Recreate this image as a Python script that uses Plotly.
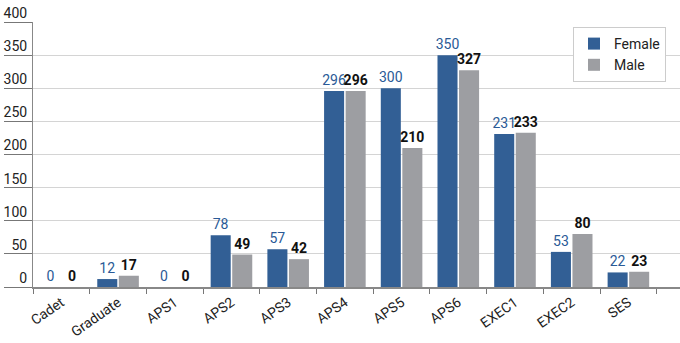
import plotly.graph_objects as go

categories = ["Cadet", "Graduate", "APS1", "APS2", "APS3", "APS4", "APS5", "APS6", "EXEC1", "EXEC2", "SES"]
female = [0, 12, 0, 78, 57, 296, 300, 350, 231, 53, 22]
male = [0, 17, 0, 49, 42, 296, 210, 327, 233, 80, 23]
y_ticks = [0, 50, 100, 150, 200, 250, 300, 350, 400]

FONT = "Roboto"
BLUE = "#325f95"
GREY = "#9d9ea2"

fig = go.Figure()
fig.add_trace(go.Bar(
    name="Female", x=categories, y=female, marker=dict(color=BLUE, line=dict(width=0)),
    text=[str(v) for v in female], textposition="outside", cliponaxis=False,
    textangle=0, constraintext="none",
    textfont=dict(family=FONT, size=14, color="#2a5a96"),
))
fig.add_trace(go.Bar(
    name="Male", x=categories, y=male, marker=dict(color=GREY, line=dict(width=0)),
    text=["<b>%d</b>" % v for v in male], textposition="outside", cliponaxis=False,
    textangle=0, constraintext="none",
    textfont=dict(family=FONT, size=14, color="#111111"),
))

L, T, W, H = 33, 22, 647, 265
fig.update_layout(
    width=680, height=343,
    margin=dict(l=L, r=0, t=T, b=56, autoexpand=False),
    paper_bgcolor="white", plot_bgcolor="white",
    barmode="group", bargap=0.24, bargroupgap=0.07,
    font=dict(family=FONT, size=14, color="#222222"),
    legend=dict(
        x=(573 - L) / W, y=1 - (27 - T) / H, xref="paper", yref="paper",
        xanchor="left", yanchor="top",
        bordercolor="#cccccc", borderwidth=1, bgcolor="white",
        font=dict(family=FONT, size=14, color="#222222"),
        itemwidth=30, tracegroupgap=0,
    ),
    showlegend=True,
)
fig.update_xaxes(
    type="category", range=[-0.5, 10.91],
    tickson="boundaries", ticks="outside", ticklen=5, tickcolor="#777777",
    showline=True, linecolor="#888888", linewidth=2,
    tickangle=-35, tickfont=dict(family=FONT, size=14, color="#222222"),
    showgrid=False,
)
fig.update_yaxes(
    range=[0, 400], tickvals=y_ticks, ticktext=[str(v) for v in y_ticks],
    showgrid=True, gridcolor="#d4d4d4", gridwidth=1,
    showline=True, linecolor="#888888", linewidth=1,
    ticks="outside", ticklen=28, tickcolor="#777777",
    ticklabelstandoff=-26, ticklabelshift=-9,
    tickfont=dict(family=FONT, size=14, color="#222222"),
    zeroline=False,
)
fig.write_html("out.html")
